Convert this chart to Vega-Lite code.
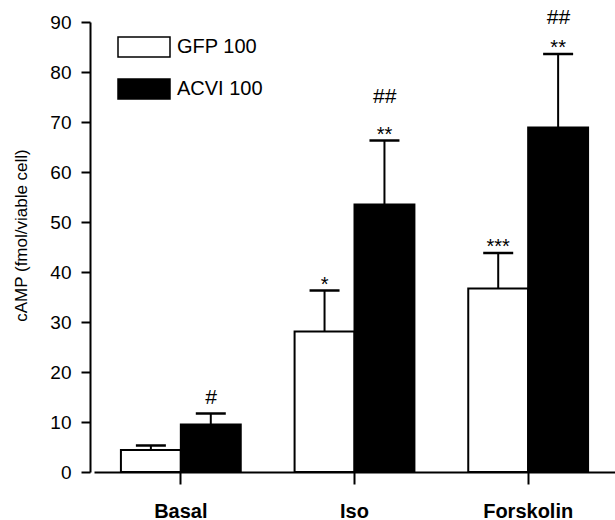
{
  "$schema": "https://vega.github.io/schema/vega-lite/v6.json",
  "width": 525,
  "height": 450,
  "autosize": {"type": "none"},
  "padding": {"left": 90, "top": 22, "right": 0, "bottom": 48},
  "config": {"view": {"stroke": null}, "font": "Liberation Sans"},
  "data": {
    "values": [
      {"cond": "Basal", "group": "GFP 100", "value": 4.4, "upper": 5.3, "star": "", "hash": "", "hashY": null},
      {"cond": "Basal", "group": "ACVI 100", "value": 9.5, "upper": 11.7, "star": "", "hash": "#", "hashY": 13.6},
      {"cond": "Iso", "group": "GFP 100", "value": 28.1, "upper": 36.3, "star": "*", "hash": "", "hashY": null},
      {"cond": "Iso", "group": "ACVI 100", "value": 53.5, "upper": 66.3, "star": "**", "hash": "##", "hashY": 73.8},
      {"cond": "Forskolin", "group": "GFP 100", "value": 36.7, "upper": 43.8, "star": "***", "hash": "", "hashY": null},
      {"cond": "Forskolin", "group": "ACVI 100", "value": 68.9, "upper": 83.6, "star": "**", "hash": "##", "hashY": 89.6}
    ]
  },
  "encoding": {
    "x": {
      "field": "cond",
      "type": "nominal",
      "sort": ["Basal", "Iso", "Forskolin"],
      "scale": {"paddingInner": 0.31, "paddingOuter": 0.155, "range": [4, 525]},
      "axis": {
        "title": null,
        "labelAngle": 0,
        "labelFontSize": 20,
        "labelFontWeight": "bold",
        "labelColor": "black",
        "labelPadding": 17,
        "tickSize": 12,
        "tickWidth": 2,
        "tickColor": "black",
        "domainColor": "black",
        "domainWidth": 2
      }
    },
    "xOffset": {"field": "group", "type": "nominal", "sort": ["GFP 100", "ACVI 100"]}
  },
  "layer": [
    {
      "mark": {"type": "bar", "stroke": "black", "strokeWidth": 2},
      "encoding": {
        "y": {
          "field": "value",
          "type": "quantitative",
          "scale": {"domain": [0, 90], "nice": false},
          "axis": {
            "title": "cAMP (fmol/viable cell)",
            "titleFontSize": 17,
            "titleFontWeight": "normal",
            "titleColor": "black",
            "titlePadding": 19,
            "titleY": 213,
            "values": [0, 10, 20, 30, 40, 50, 60, 70, 80, 90],
            "grid": false,
            "labelFontSize": 19,
            "labelColor": "black",
            "labelPadding": 10,
            "tickSize": 9,
            "tickWidth": 2,
            "tickColor": "black",
            "domainColor": "black",
            "domainWidth": 2
          }
        },
        "fill": {
          "field": "group",
          "type": "nominal",
          "sort": ["GFP 100", "ACVI 100"],
          "scale": {"range": ["white", "black"]},
          "legend": {
            "orient": "none",
            "legendX": 43,
            "legendY": 14,
            "title": null,
            "symbolType": "M-2.6,-1H2.6V1H-2.6Z",
            "symbolSize": 400,
            "symbolStrokeColor": "black",
            "symbolStrokeWidth": 1.5,
            "symbolOpacity": 1,
            "labelFontSize": 20,
            "labelColor": "black",
            "labelOffset": 22,
            "rowPadding": 16
          }
        }
      }
    },
    {
      "mark": {"type": "rule", "strokeWidth": 2, "color": "black"},
      "encoding": {
        "y": {"field": "value", "type": "quantitative"},
        "y2": {"field": "upper"}
      }
    },
    {
      "mark": {"type": "tick", "orient": "horizontal", "size": 30, "thickness": 2.5, "color": "black", "opacity": 1},
      "encoding": {
        "y": {"field": "upper", "type": "quantitative"}
      }
    },
    {
      "mark": {"type": "text", "fontSize": 20, "baseline": "alphabetic", "dy": 0, "color": "black"},
      "encoding": {
        "y": {"field": "upper", "type": "quantitative"},
        "text": {"field": "star"}
      }
    },
    {
      "transform": [{"filter": "datum.hashY != null"}],
      "mark": {"type": "text", "fontSize": 21, "fontStyle": "italic", "baseline": "alphabetic", "color": "black"},
      "encoding": {
        "y": {"field": "hashY", "type": "quantitative"},
        "text": {"field": "hash"}
      }
    }
  ]
}
